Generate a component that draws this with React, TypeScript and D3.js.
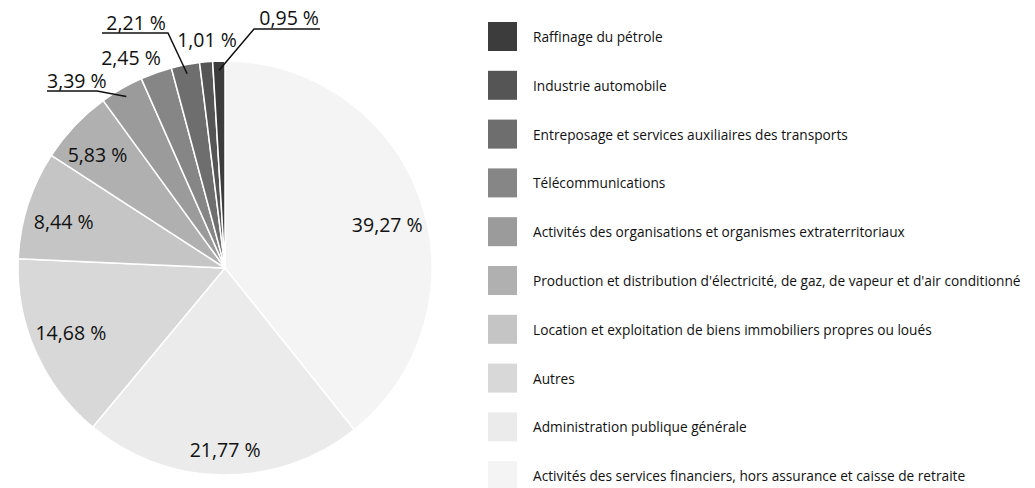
import React from "react";
import * as d3 from "d3";

const categories = [
  "Activités des services financiers, hors assurance et caisse de retraite",
  "Administration publique générale",
  "Autres",
  "Location et exploitation de biens immobiliers propres ou loués",
  "Production et distribution d'électricité, de gaz, de vapeur et d'air conditionné",
  "Activités des organisations et organismes extraterritoriaux",
  "Télécommunications",
  "Entreposage et services auxiliaires des transports",
  "Industrie automobile",
  "Raffinage du pétrole",
];
const values = [39.27, 21.77, 14.68, 8.44, 5.83, 3.39, 2.45, 2.21, 1.01, 0.95];
const colors = [
  "#f4f4f4", "#ebebeb", "#d8d8d8", "#c5c5c5", "#b0b0b0",
  "#9b9b9b", "#868686", "#6e6e6e", "#555555", "#3c3c3c",
];

const W = 1035, H = 488;
const cx = 225, cy = 268, R = 207;
const FONT = "'Open Sans', 'Noto Sans', sans-serif";

type Lay =
  | { kind: "in"; r: number; da: number }
  | { kind: "lead"; elbow: [number, number]; end: [number, number]; anchor: "start" | "end"; tx: number; ty: number }
  | { kind: "free"; tx: number; ty: number };

const labelLayout: Lay[] = [
  { kind: "in", r: 168, da: 4.3 },
  { kind: "in", r: 182, da: -0.6 },
  { kind: "in", r: 167, da: 1.2 },
  { kind: "in", r: 168, da: -1.6 },
  { kind: "in", r: 171, da: -1.7 },
  { kind: "lead", elbow: [-128, -177], end: [-178, -177], anchor: "start", tx: -178, ty: -180 },
  { kind: "free", tx: -94, ty: -203 },
  { kind: "lead", elbow: [-57, -235], end: [-123, -235], anchor: "end", tx: -59, ty: -238 },
  { kind: "free", tx: -18, ty: -221 },
  { kind: "lead", elbow: [29, -239], end: [95, -239], anchor: "end", tx: 94, ty: -243 },
];

function fmt(v: number) {
  return v.toFixed(2).replace(".", ",") + " %";
}

export default function App() {
  const pie = d3.pie<number>().sort(null).startAngle(0).endAngle(2 * Math.PI).value((d) => d);
  const arcs = pie(values);
  const arcGen = d3.arc<d3.PieArcDatum<number>>().innerRadius(0).outerRadius(R);

  const legendX = 488, legendY0 = 22, legendStep = 48.8, sq = 29;
  const legendOrder = d3.range(values.length).reverse();

  return (
    <svg width={W} height={H} style={{ position: "absolute", left: 0, top: 0 }}>
      <rect width={W} height={H} fill="#ffffff" />
      <g transform={`translate(${cx},${cy})`}>
        {arcs.map((a, i) => (
          <path key={i} d={arcGen(a) || ""} fill={colors[i]} stroke="#ffffff" strokeWidth={1.5} strokeLinejoin="round" />
        ))}
        {arcs.map((a, i) => {
          const lay = labelLayout[i];
          const mid = (a.startAngle + a.endAngle) / 2;
          if (lay.kind === "in") {
            const ang = mid + (lay.da * Math.PI) / 180;
            const x = lay.r * Math.sin(ang), y = -lay.r * Math.cos(ang);
            return (
              <text key={i} x={x} y={y} textAnchor="middle" dominantBaseline="central" fontFamily={FONT} fontSize={19.5} fill="#111">
                {fmt(values[i])}
              </text>
            );
          }
          if (lay.kind === "free") {
            return (
              <text key={i} x={lay.tx} y={lay.ty} textAnchor="middle" fontFamily={FONT} fontSize={19.5} fill="#111">
                {fmt(values[i])}
              </text>
            );
          }
          const rs = R * 0.956;
          const sx = rs * Math.sin(mid), sy = -rs * Math.cos(mid);
          return (
            <g key={i}>
              <polyline
                points={`${sx},${sy} ${lay.elbow[0]},${lay.elbow[1]} ${lay.end[0]},${lay.end[1]}`}
                fill="none" stroke="#111" strokeWidth={1.5}
              />
              <text x={lay.tx} y={lay.ty} textAnchor={lay.anchor} fontFamily={FONT} fontSize={19.5} fill="#111">
                {fmt(values[i])}
              </text>
            </g>
          );
        })}
      </g>
      <g>
        {legendOrder.map((idx, row) => {
          const y = legendY0 + row * legendStep;
          return (
            <g key={idx} transform={`translate(${legendX},${y})`}>
              <rect width={sq} height={sq} fill={colors[idx]} />
              <text x={45} y={sq / 2} dominantBaseline="central" fontFamily={FONT} fontSize={13.7} fill="#111">
                {categories[idx]}
              </text>
            </g>
          );
        })}
      </g>
    </svg>
  );
}
